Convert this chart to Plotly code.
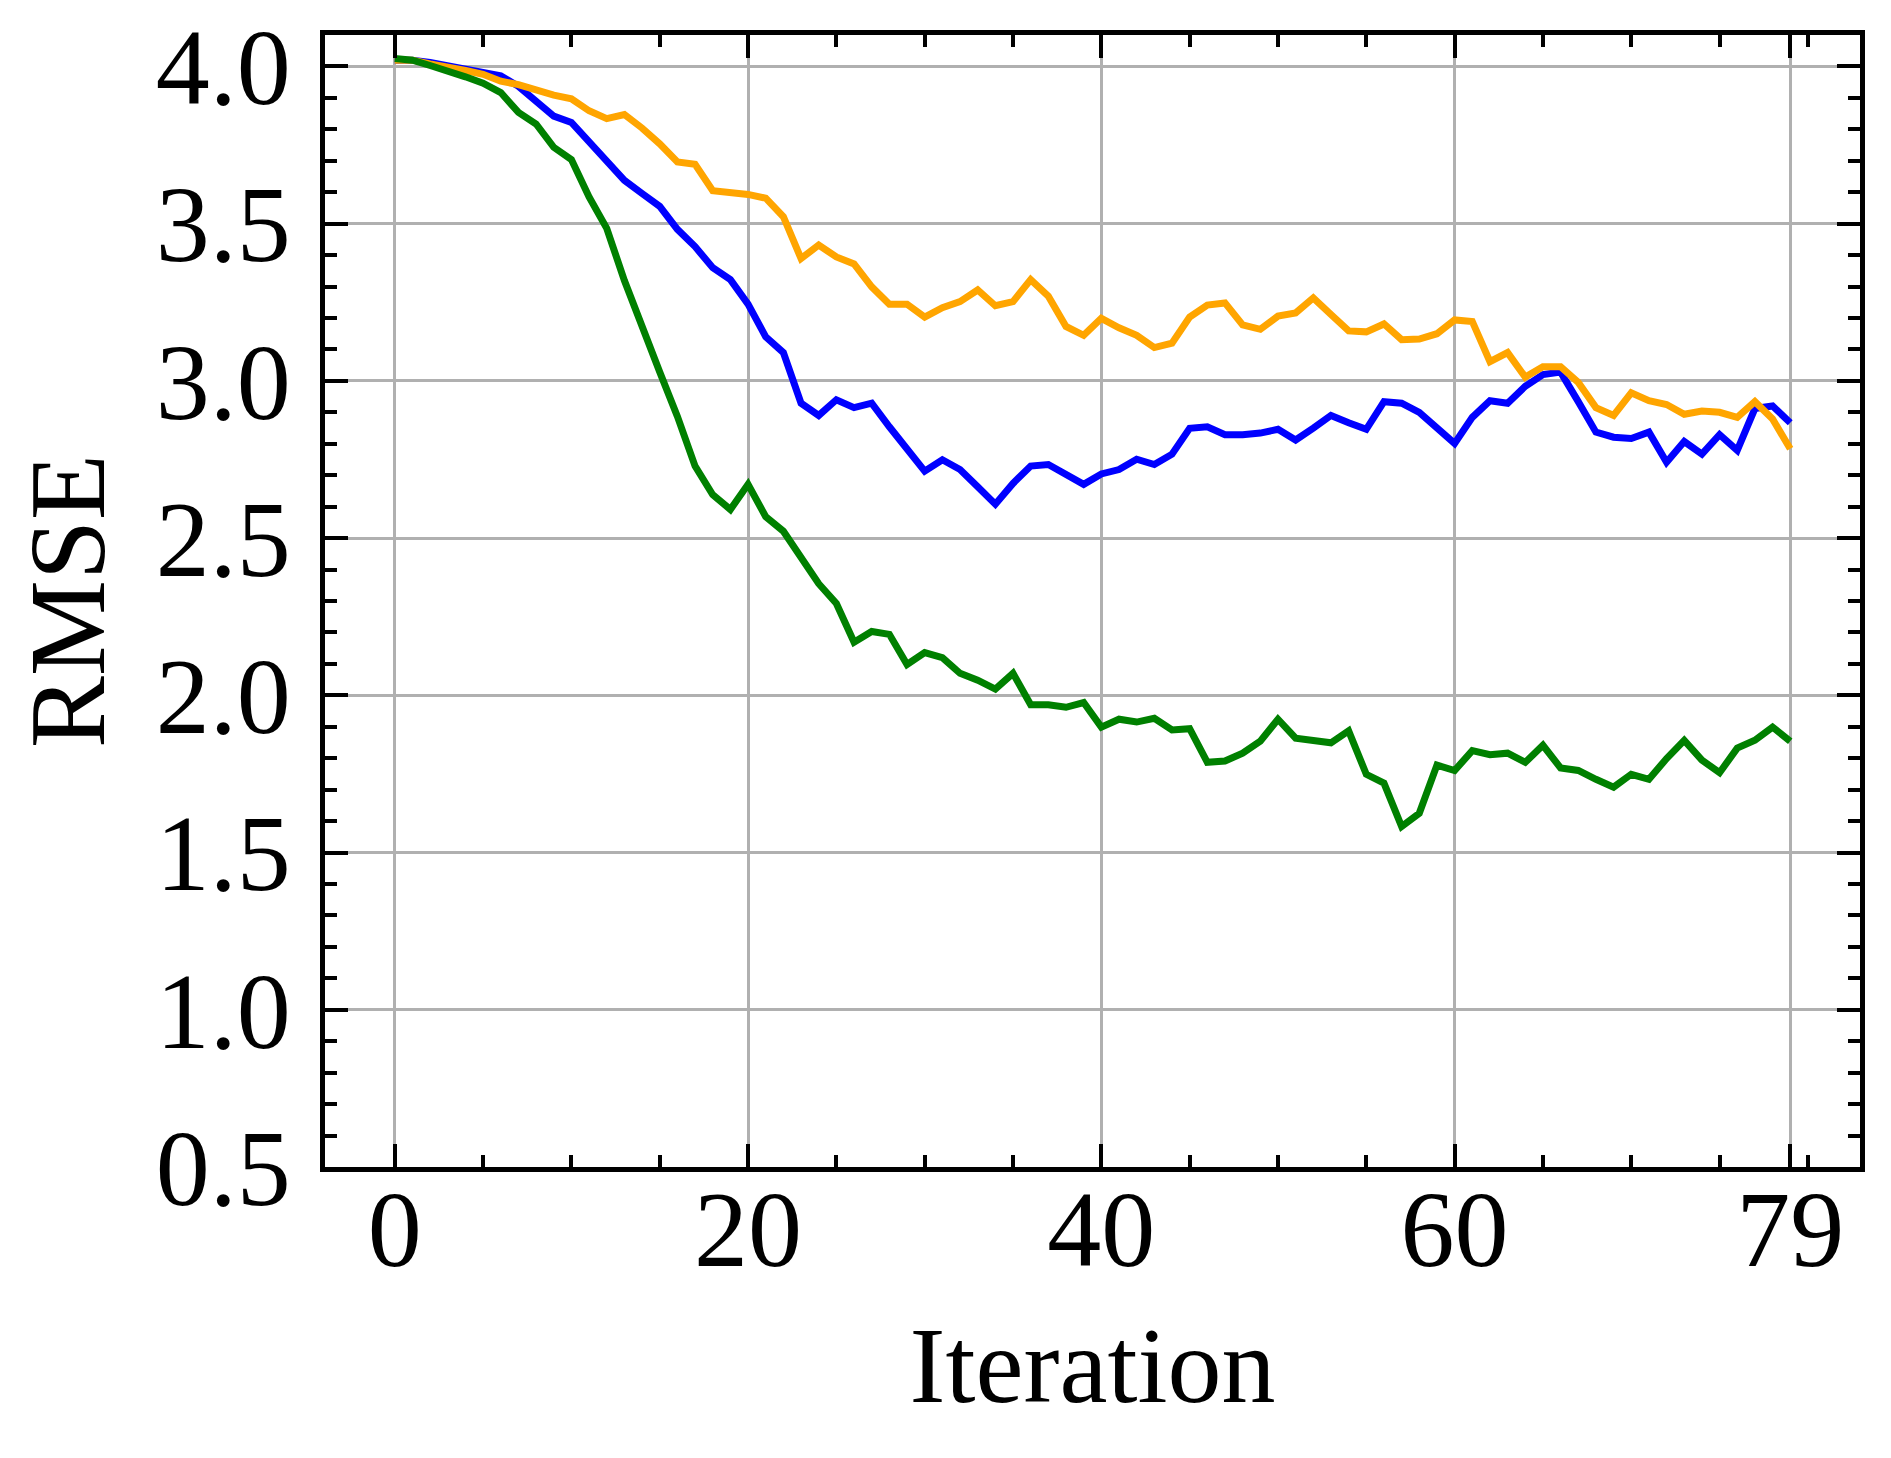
import plotly.graph_objects as go

iterations = list(range(80))

rmse_blue = [4.02, 4.02, 4.013, 4.003, 3.992, 3.98, 3.97, 3.937, 3.887, 3.842,
             3.822, 3.759, 3.701, 3.638, 3.596, 3.555, 3.482, 3.427, 3.36, 3.322,
             3.244, 3.14, 3.09, 2.929, 2.89, 2.94, 2.915, 2.929, 2.854, 2.784,
             2.713, 2.749, 2.718, 2.663, 2.608, 2.674, 2.729, 2.734, 2.704, 2.671,
             2.704, 2.718, 2.751, 2.734, 2.767, 2.849, 2.854, 2.829, 2.829, 2.834,
             2.846, 2.812, 2.85, 2.89, 2.867, 2.846, 2.934, 2.929, 2.9, 2.854,
             2.801, 2.884, 2.937, 2.929, 2.983, 3.02, 3.028, 2.934, 2.837, 2.821,
             2.817, 2.837, 2.741, 2.807, 2.767, 2.829, 2.779, 2.912, 2.92, 2.867]

rmse_orange = [4.02, 4.02, 4.008, 4.0, 3.987, 3.975, 3.953, 3.942, 3.925, 3.909,
               3.897, 3.859, 3.834, 3.847, 3.804, 3.754, 3.696, 3.689, 3.605, 3.601,
               3.593, 3.581, 3.522, 3.389, 3.432, 3.394, 3.372, 3.299, 3.244, 3.244,
               3.203, 3.233, 3.252, 3.289, 3.239, 3.252, 3.322, 3.269, 3.173, 3.145,
               3.199, 3.169, 3.145, 3.106, 3.12, 3.203, 3.241, 3.248, 3.178, 3.164,
               3.206, 3.216, 3.264, 3.211, 3.159, 3.156, 3.181, 3.131, 3.133, 3.15,
               3.194, 3.189, 3.061, 3.09, 3.012, 3.045, 3.045, 2.995, 2.915, 2.89,
               2.962, 2.937, 2.925, 2.894, 2.904, 2.9, 2.884, 2.934, 2.879, 2.784]

rmse_green = [4.025, 4.02, 4.003, 3.987, 3.967, 3.947, 3.917, 3.854, 3.817, 3.743,
              3.704, 3.585, 3.485, 3.319, 3.169, 3.028, 2.887, 2.729, 2.638, 2.591,
              2.671, 2.568, 2.522, 2.439, 2.355, 2.292, 2.169, 2.203, 2.194, 2.098,
              2.136, 2.12, 2.07, 2.048, 2.02, 2.07, 1.97, 1.97, 1.962, 1.977,
              1.899, 1.924, 1.915, 1.927, 1.89, 1.894, 1.787, 1.791, 1.816, 1.854,
              1.924, 1.864, 1.857, 1.849, 1.887, 1.749, 1.721, 1.583, 1.625, 1.778,
              1.761, 1.824, 1.811, 1.816, 1.787, 1.841, 1.769, 1.761, 1.733, 1.708,
              1.749, 1.733, 1.799, 1.857, 1.794, 1.754, 1.832, 1.857, 1.899, 1.854]

x_tickvals = [0, 20, 40, 60, 79]
x_minor_vals = [5, 10, 15, 25, 30, 35, 45, 50, 55, 65, 70, 75, 80]

font_family = "Liberation Serif, Times New Roman, serif"

fig = go.Figure()
for ys, color in [(rmse_blue, "#0000ff"), (rmse_orange, "#ffa500"), (rmse_green, "#008000")]:
    fig.add_trace(go.Scatter(x=iterations, y=ys, mode="lines",
                             line=dict(color=color, width=7), showlegend=False))

axis_common = dict(
    showline=True, linecolor="black", linewidth=4.5, mirror="allticks",
    ticks="inside", ticklen=23, tickwidth=3.5, tickcolor="black",
    showgrid=True, gridcolor="#b0b0b0", gridwidth=2.5, zeroline=False,
    automargin=False,
    tickfont=dict(family=font_family, size=108, color="black"),
)

fig.update_xaxes(
    **axis_common,
    range=[-3.95, 82.95],
    tickmode="array", tickvals=x_tickvals,
    ticklabelstandoff=-35,
    minor=dict(tickmode="array", tickvals=x_minor_vals, ticks="inside",
               ticklen=12, tickwidth=3.5, tickcolor="black", showgrid=False),
    title=dict(text="Iteration", font=dict(family=font_family, size=108, color="black"),
               standoff=40),
)
fig.update_yaxes(
    **axis_common,
    range=[0.5, 4.1],
    tick0=0.5, dtick=0.5, tickformat=".1f",
    ticklabelstandoff=8,
    minor=dict(tick0=0.5, dtick=0.1, ticks="inside",
               ticklen=12, tickwidth=3.5, tickcolor="black", showgrid=False),
    title=dict(text="RMSE", font=dict(family=font_family, size=108, color="black"),
               standoff=20),
)

fig.update_layout(
    width=1891, height=1458, autosize=False,
    margin=dict(l=317, r=39, t=27, b=299),
    plot_bgcolor="white", paper_bgcolor="white",
)

fig.write_html("out.html")
